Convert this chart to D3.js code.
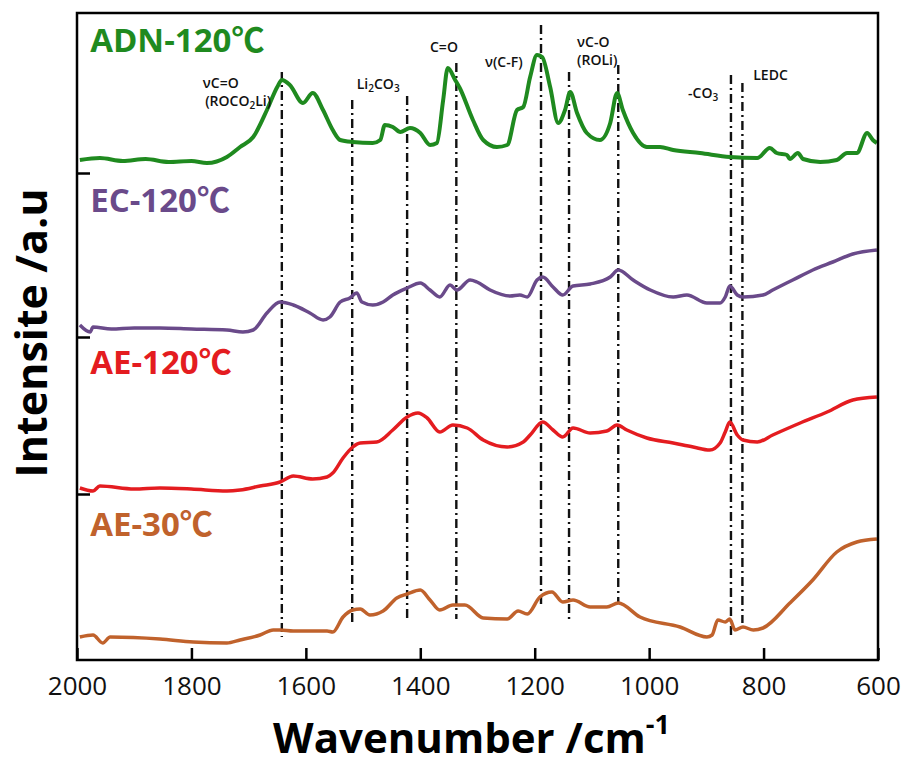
<html>
<head>
<meta charset="utf-8">
<script src="https://cdn.jsdelivr.net/npm/d3@7/dist/d3.min.js"></script>
<style>
  body { margin: 0; background: #fff; }
  text { font-family: "Open Sans", "DejaVu Sans", sans-serif; }
</style>
</head>
<body>
<script>

// wavenumber (cm-1) / intensity (a.u., offset per trace)
const adnWn = [1995,1960,1920,1880,1840,1800,1773,1738,1715,1692,1668,1650,1642,1628,1605,1588,1570,1553,1540,1518,1483,1470,1462,1448,1435,1418,1400,1383,1371,1360,1352,1339,1331,1308,1290,1266,1248,1231,1220,1208,1196,1187,1173,1159,1147,1138,1126,1109,1086,1068,1056,1046,1028,1004,981,958,911,859,811,789,777,759,754,740,731,701,672,654,637,619,609,602];
const adnI  = [500,502,499,501,498,499,497,503,513,523,550,573,580,575,557,567,550,530,520,518,517,520,535,533,528,532,527,515,517,560,592,580,572,540,520,513,515,550,553,583,605,603,573,537,550,568,547,527,520,537,567,550,527,513,513,510,507,503,502,512,507,505,501,507,501,498,500,507,507,527,520,517];

const ecWn = [1995,1977,1972,1940,1900,1855,1800,1738,1710,1692,1668,1645,1622,1593,1570,1558,1540,1523,1511,1502,1483,1465,1448,1423,1400,1383,1366,1348,1336,1313,1301,1278,1243,1226,1213,1196,1186,1168,1151,1133,1103,1068,1054,1028,998,958,934,899,876,867,859,846,836,801,784,749,714,679,644,602];
const ecI  = [335,328,333,331,332,332,331,330,328,330,347,358,355,347,340,343,358,362,367,358,355,358,365,372,377,370,363,375,370,380,378,370,364,365,363,380,383,373,365,374,376,383,390,380,370,363,365,357,357,363,374,365,363,365,370,380,390,398,406,410];

const ae120Wn = [1995,1972,1960,1900,1855,1800,1738,1715,1680,1645,1622,1588,1563,1553,1535,1518,1505,1476,1448,1423,1404,1388,1366,1343,1318,1290,1248,1220,1208,1186,1168,1151,1133,1103,1074,1056,1039,1004,958,923,894,876,867,859,846,836,811,784,736,689,644,602];
const ae120I  = [172,169,174,171,172,171,169,170,174,178,184,181,183,187,202,213,217,218,230,243,247,242,228,235,232,220,213,218,225,238,230,223,232,227,229,235,230,222,217,213,210,217,228,238,225,220,218,225,237,248,260,263];

const ae30Wn = [1995,1972,1955,1942,1855,1797,1738,1715,1680,1657,1645,1622,1563,1553,1535,1518,1505,1488,1465,1441,1423,1400,1383,1366,1343,1322,1290,1248,1229,1213,1191,1170,1151,1133,1103,1074,1054,1016,946,899,890,880,867,859,850,836,818,801,754,714,672,637,602];
const ae30I  = [23,25,17,23,21,18,17,20,25,30,30,29,29,28,43,50,51,45,49,62,66,70,60,50,55,55,42,41,49,46,63,68,58,60,53,53,57,43,33,23,25,40,38,41,30,33,30,32,57,80,108,118,121];

const seriesNames  = ['ADN-120', 'EC-120', 'AE-120', 'AE-30'];
const seriesColors = ['#1f8a1f', '#6a4a8a', '#e41c20', '#c0622c'];
const labelI       = [608, 448, 286, 124];

// band assignments (dash-dot guide lines)
const bandWn     = [1642, 1519, 1423, 1337, 1189, 1140, 1054, 857, 837];
const bandTop    = [588, 560, 564, 597, 635, 588, 595, 585, 577];
const bandBottom = [23, 34, 40, 41, 53, 40, 58, 22, 37];

const xTicks = [2000, 1800, 1600, 1400, 1200, 1000, 800, 600];
const yTicks = [166, 323, 487];

const margin = {top: 13, right: 30, bottom: 106, left: 77};
const W = 908, H = 766;
const width  = W - margin.left - margin.right;
const height = H - margin.top - margin.bottom;

const svg = d3.select('body').append('svg')
  .attr('width', W)
  .attr('height', H);

const chart = svg.append('g')
  .attr('transform', `translate(${margin.left}, ${margin.top})`);

const x = d3.scaleLinear().domain([2000, 600]).range([0, width]);
const y = d3.scaleLinear().domain([0, 647]).range([height, 0]);

// guide lines
chart.selectAll('.band')
  .data(bandWn)
  .enter().append('line')
  .attr('x1', d => x(d)).attr('x2', d => x(d))
  .attr('y1', (d, i) => y(bandTop[i]))
  .attr('y2', (d, i) => y(bandBottom[i]))
  .attr('stroke', '#111')
  .attr('stroke-width', 2.4)
  .attr('stroke-dasharray', '9,4,2,4');

// spectra
const series = [[adnWn, adnI], [ecWn, ecI], [ae120Wn, ae120I], [ae30Wn, ae30I]];
const line = d3.line()
  .x(d => x(d[0]))
  .y(d => y(d[1]))
  .curve(d3.curveMonotoneX);

series.forEach(function(s, i) {
  const pts = s[0].map((w, j) => [w, s[1][j]]);
  chart.append('path')
    .datum(pts)
    .attr('fill', 'none')
    .attr('stroke', seriesColors[i])
    .attr('stroke-width', i === 0 ? 4 : 3.5)
    .attr('stroke-linejoin', 'round')
    .attr('d', line);

  const t = chart.append('text')
    .attr('x', x(1977))
    .attr('y', y(labelI[i]))
    .attr('fill', seriesColors[i])
    .attr('font-size', 33)
    .attr('font-weight', 700);
  t.append('tspan').text(seriesNames[i]);
  t.append('tspan').style('font-family', '"Noto Sans CJK SC", sans-serif').text('℃');
});

// band labels
function label(wn, inten, parts) {
  const t = chart.append('text')
    .attr('x', x(wn))
    .attr('y', y(inten))
    .attr('font-size', 14)
    .attr('font-weight', 600)
    .attr('fill', '#111');
  parts.forEach(function(p) {
    if (p[1]) {
      t.append('tspan').attr('font-size', 10).attr('dy', 3).text(p[0]);
    } else {
      t.append('tspan').attr('dy', p[2] || 0).text(p[0]);
    }
  });
}
label(1780, 572, [['νC=O']]);
label(1776, 554, [['(ROCO'], ['2', true], ['Li)', false, -3]]);
label(1511, 571, [['Li'], ['2', true], ['CO', false, -3], ['3', true]]);
label(1383, 608, [['C=O']]);
label(1287, 593, [['ν(C-F)']]);
label(1126, 613, [['νC-O']]);
label(1126, 595, [['(ROLi)']]);
label(932, 562, [['-CO'], ['3', true]]);
label(818, 580, [['LEDC']]);

// axes
chart.append('g')
  .attr('transform', `translate(0, ${height})`)
  .call(d3.axisBottom(x).tickValues(xTicks).tickSize(-12).tickPadding(17).tickFormat(d3.format('d')))
  .call(g => g.select('.domain').remove())
  .call(g => g.selectAll('line').attr('stroke', '#000').attr('stroke-width', 2.5))
  .call(g => g.selectAll('text').attr('font-size', 26).attr('fill', '#111')
    .style('font-family', '"Open Sans", sans-serif'));

chart.append('g')
  .call(d3.axisLeft(y).tickValues(yTicks).tickSize(-13).tickFormat(''))
  .call(g => g.select('.domain').remove())
  .call(g => g.selectAll('line').attr('stroke', '#000').attr('stroke-width', 2.5));

chart.append('rect')
  .attr('width', width)
  .attr('height', height)
  .attr('fill', 'none')
  .attr('stroke', '#000')
  .attr('stroke-width', 2.5);

// titles
const xt = svg.append('text')
  .attr('x', margin.left + width / 2 - 6)
  .attr('y', 753)
  .attr('text-anchor', 'middle')
  .attr('font-size', 42)
  .attr('font-weight', 700)
  .attr('fill', '#000');
xt.append('tspan').text('Wavenumber /cm');
xt.append('tspan').attr('font-size', 27).attr('dy', -19).text('-1');

svg.append('text')
  .attr('transform', 'translate(47, 333) rotate(-90)')
  .attr('text-anchor', 'middle')
  .attr('font-size', 43)
  .attr('font-weight', 700)
  .attr('fill', '#000')
  .text('Intensite /a.u');

</script>
</body>
</html>
